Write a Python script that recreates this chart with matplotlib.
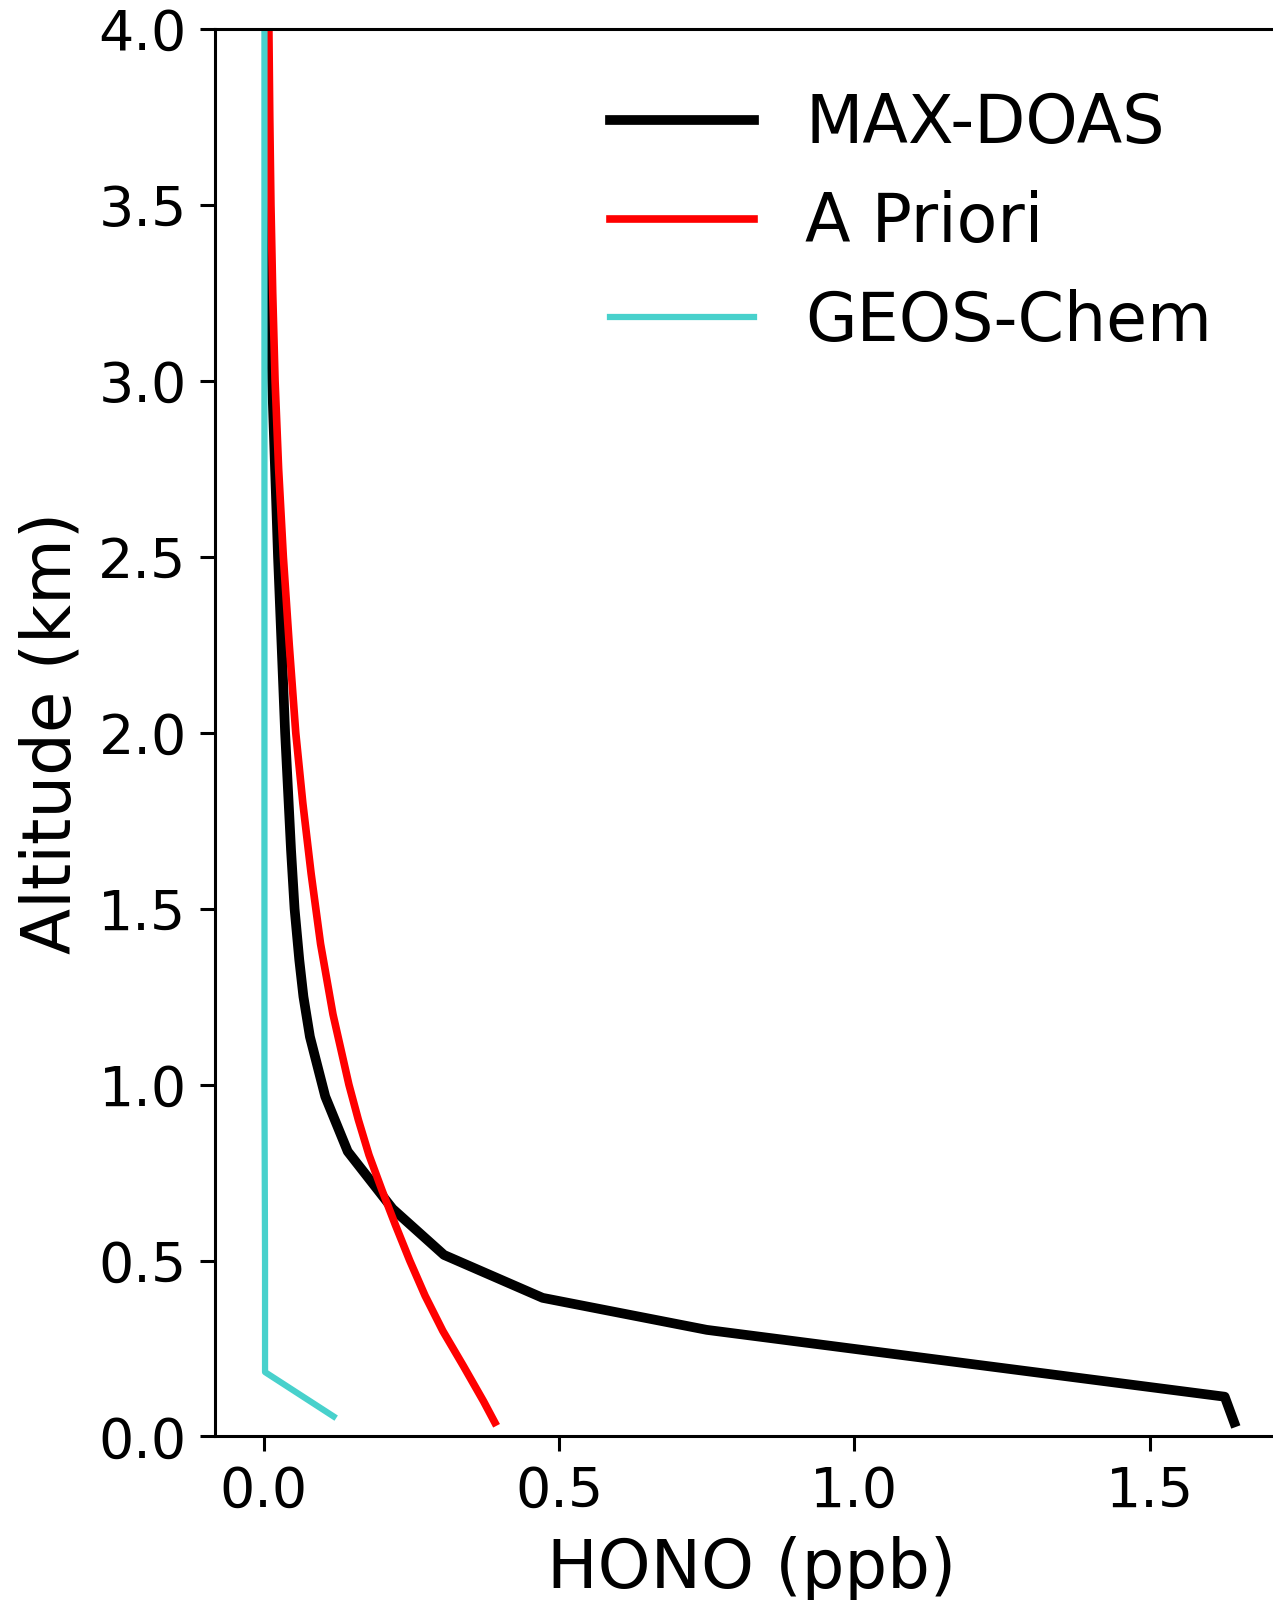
import matplotlib
matplotlib.use("Agg")
import matplotlib.pyplot as plt

# MAX-DOAS retrieved HONO profile
maxdoas_alt = [0.04, 0.113, 0.303, 0.394, 0.516, 0.647, 0.81, 0.966, 1.136, 1.25, 1.354,
               1.5, 1.667, 2.0, 2.5, 3.0, 3.5, 4.0]
maxdoas_hono = [1.643, 1.627, 0.75, 0.472, 0.305, 0.218, 0.142, 0.104, 0.078, 0.067, 0.060,
                0.052, 0.046, 0.036, 0.024, 0.014, 0.008, 0.005]

# A priori profile
apriori_alt = [0.04, 0.1, 0.2, 0.3, 0.4, 0.5, 0.6, 0.7, 0.8, 0.9, 1.0, 1.2, 1.4, 1.6,
               1.8, 2.0, 2.25, 2.5, 2.75, 3.0, 3.25, 3.5, 3.75, 4.0]
apriori_hono = [0.391, 0.372, 0.338, 0.303, 0.273, 0.247, 0.223, 0.200, 0.178, 0.160,
                0.144, 0.117, 0.096, 0.080, 0.066, 0.054, 0.043, 0.033, 0.025, 0.019,
                0.015, 0.012, 0.010, 0.0085]

# GEOS-Chem profile
geos_alt = [0.057, 0.183, 0.5, 1.0, 2.0, 3.0, 4.0]
geos_hono = [0.118, 0.002, 0.002, 0.001, 0.001, 0.001, 0.001]

labels = ["MAX-DOAS", "A Priori", "GEOS-Chem"]
xticks = [0.0, 0.5, 1.0, 1.5]
yticks = [0.0, 0.5, 1.0, 1.5, 2.0, 2.5, 3.0, 3.5, 4.0]

fig = plt.figure(figsize=(12.73, 16), dpi=100)
ax = fig.add_axes([0.169, 0.1022, 0.842, 0.8797])

ax.plot(maxdoas_hono, maxdoas_alt, color="black", lw=7, label=labels[0])
ax.plot(apriori_hono, apriori_alt, color="#ff0000", lw=5.5, label=labels[1])
ax.plot(geos_hono, geos_alt, color="mediumturquoise", lw=4.5, label=labels[2])

ax.set_xlim(-0.0825, 1.7325)
ax.set_ylim(0, 4.0)
ax.set_xticks(xticks)
ax.set_yticks(yticks)
ax.tick_params(labelsize=40, length=10.5, width=2.2, pad=10)
for s in ax.spines.values():
    s.set_linewidth(2.2)

ax.set_xlabel("HONO (ppb)", fontsize=48.5, labelpad=12)
ax.set_ylabel("Altitude (km)", fontsize=48.5, labelpad=10)

leg = ax.legend(loc="upper left", bbox_to_anchor=(0.479, 0.943),
                bbox_transform=fig.transFigure, frameon=False, fontsize=48,
                borderaxespad=0, borderpad=0, handlelength=2.17,
                handletextpad=0.76, labelspacing=0.49)

fig.savefig("out.png", dpi=100)
